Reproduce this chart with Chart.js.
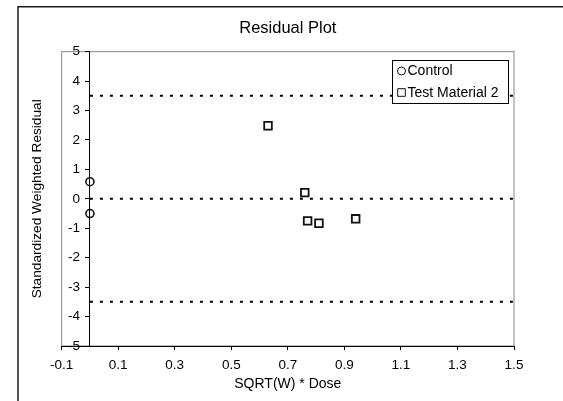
<!DOCTYPE html>
<html>
<head>
<meta charset="utf-8">
<script src="https://cdn.jsdelivr.net/npm/chart.js@4.4.1/dist/chart.umd.min.js"></script>
<style>
  html, body { margin: 0; padding: 0; background: #fff; }
  #wrap { width: 563px; height: 401px; position: relative; }
</style>
</head>
<body>
<div id="wrap"><canvas id="residualChart"></canvas></div>
<script>
// donnees
const controlX = [0, 0];
const controlY = [0.58, -0.5];
const testX = [0.63, 0.76, 0.77, 0.81, 0.94];
const testY = [2.48, 0.21, -0.75, -0.83, -0.68];
const limitLevels = [3.5, 0, -3.5];
const limitSpan = [0, 1.5];
const xTicks = [-0.1, 0.1, 0.3, 0.5, 0.7, 0.9, 1.1, 1.3, 1.5];
const yTicks = [-5, -4, -3, -2, -1, 0, 1, 2, 3, 4, 5];
const seriesNames = ['Control', 'Test Material 2'];

const FONT = "'Liberation Sans', Arial, sans-serif";

function toPoints(xs, ys) {
    return xs.map((x, i) => ({ x: x, y: ys[i] }));
}

const limitDatasets = limitLevels.map(level => ({
    type: 'line',
    label: 'limit ' + level,
    data: limitSpan.map(x => ({ x: x, y: level })),
    borderColor: '#000',
    borderWidth: 2,
    borderDash: [3, 7],
    pointRadius: 0,
    fill: false,
    yAxisID: 'y'
}));

// cadre exterieur + bordure grise de la zone de tracé
const framePlugin = {
    id: 'frame',
    beforeDraw(chart) {
        const { ctx, chartArea } = chart;
        ctx.save();
        ctx.fillStyle = '#fff';
        ctx.fillRect(0, 0, chart.width, chart.height);
        ctx.strokeStyle = '#1a1a1a';
        ctx.lineWidth = 1.5;
        ctx.strokeRect(18, 6.75, 700, 600);
        ctx.strokeStyle = '#9a9a9a';
        ctx.lineWidth = 1.2;
        ctx.strokeRect(chartArea.left, chartArea.top, chartArea.right - chartArea.left, chartArea.bottom - chartArea.top);
        ctx.restore();
    }
};

// legende dans la zone de tracé, en haut à droite
const boxLegendPlugin = {
    id: 'boxLegend',
    afterDraw(chart) {
        const { ctx } = chart;
        const box = { x: 392, y: 60, w: 116, h: 43 };
        ctx.save();
        ctx.fillStyle = '#fff';
        ctx.fillRect(box.x, box.y, box.w, box.h);
        ctx.strokeStyle = '#000';
        ctx.lineWidth = 1;
        ctx.strokeRect(box.x + 0.5, box.y + 0.5, box.w, box.h);
        ctx.font = '14px ' + FONT;
        ctx.textBaseline = 'middle';
        ctx.textAlign = 'left';
        seriesNames.forEach((name, i) => {
            const ds = chart.data.datasets[i];
            const cy = box.y + 11 + i * 21.5;
            ctx.strokeStyle = ds.borderColor;
            ctx.fillStyle = '#fff';
            Chart.helpers.drawPoint(ctx, {
                pointStyle: ds.pointStyle,
                radius: ds.pointRadius,
                borderWidth: ds.borderWidth
            }, 401.5, cy);
            ctx.fillStyle = '#000';
            ctx.fillText(name, 407.5, cy + 0.5);
        });
        ctx.restore();
    }
};

const ctx = document.getElementById('residualChart').getContext('2d');
const residualChart = new Chart(ctx, {
    type: 'scatter',
    data: {
        datasets: [
            {
                label: seriesNames[0],
                data: toPoints(controlX, controlY),
                pointStyle: 'circle',
                pointRadius: 4,
                borderWidth: 1.6,
                borderColor: '#111',
                backgroundColor: 'rgba(255,255,255,0)',
                yAxisID: 'y'
            },
            {
                label: seriesNames[1],
                data: toPoints(testX, testY),
                pointStyle: 'rect',
                pointRadius: 5.4,
                borderWidth: 1.8,
                borderColor: '#111',
                backgroundColor: 'rgba(255,255,255,0)',
                yAxisID: 'y'
            },
            ...limitDatasets
        ]
    },
    options: {
        responsive: true,
        maintainAspectRatio: false,
        animation: false,
        devicePixelRatio: 1,
        layout: {
            padding: { left: 18, right: 49, top: 0, bottom: 0 }
        },
        scales: {
            // axe vertical qui croise à x = 0 (trait + graduations)
            y: {
                type: 'linear',
                position: { x: 0 },
                min: -5,
                max: 5,
                afterBuildTicks: s => { s.ticks = yTicks.map(v => ({ value: v })); },
                grid: { display: true, drawOnChartArea: false, drawTicks: true, tickLength: 4, color: '#000' },
                border: { display: true, color: '#000', width: 1 },
                ticks: { display: false }
            },
            // libellés de l'axe vertical, juste à gauche du trait
            yLabels: {
                type: 'linear',
                position: { x: -0.035 },
                min: -5,
                max: 5,
                afterBuildTicks: s => { s.ticks = yTicks.map(v => ({ value: v })); },
                grid: { display: false },
                border: { display: false },
                ticks: { color: '#000', padding: 0, font: { family: FONT, size: 13.5 } }
            },
            x: {
                type: 'linear',
                position: 'bottom',
                min: -0.1,
                max: 1.5,
                afterBuildTicks: s => { s.ticks = xTicks.map(v => ({ value: v })); },
                grid: { display: true, drawOnChartArea: false, drawTicks: true, tickLength: 4, color: '#000' },
                border: { display: true, color: '#000', width: 1 },
                ticks: {
                    color: '#000', padding: 7, maxRotation: 0,
                    font: { family: FONT, size: 13.5 },
                    callback: v => v.toFixed(1)
                },
                title: {
                    display: true, text: 'SQRT(W) * Dose', color: '#000',
                    font: { family: FONT, size: 14 },
                    padding: { top: -4.6, bottom: 8.6 }
                }
            },
            yTitle: {
                type: 'linear',
                position: 'left',
                display: true,
                grid: { display: false, drawTicks: false },
                border: { display: false },
                ticks: { display: false },
                title: {
                    display: true, text: 'Standardized Weighted Residual', color: '#000',
                    font: { family: FONT, size: 13.7 },
                    padding: { top: 10.6, bottom: 16.6 }
                }
            }
        },
        plugins: {
            legend: { display: false },
            tooltip: { enabled: false },
            title: {
                display: true,
                fullSize: false,
                text: 'Residual Plot',
                color: '#000',
                font: { family: FONT, size: 16.5, weight: 'normal' },
                padding: { top: 18.4, bottom: 13.4 }
            }
        }
    },
    plugins: [framePlugin, boxLegendPlugin]
});
</script>
</body>
</html>
